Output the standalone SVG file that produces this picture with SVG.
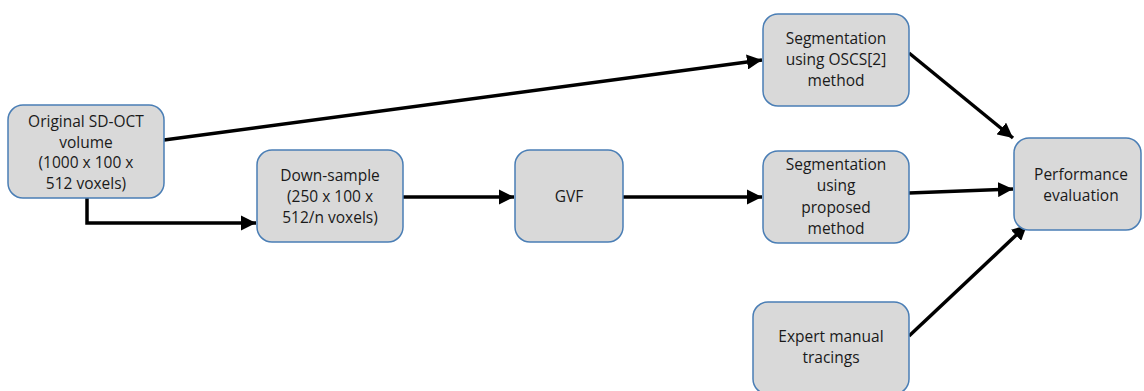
<svg xmlns="http://www.w3.org/2000/svg" width="1144" height="391" viewBox="0 0 1144 391">
<style>
.n{fill:#d9d9d9;stroke:#4a7eb5;stroke-width:1.5}
.t{font-family:"Open Sans","Liberation Sans",sans-serif;font-size:15.5px;fill:#1a1a1a;text-anchor:middle}
.c{fill:none;stroke:#000;stroke-width:3.5}
</style>
<defs>
<marker id="a" viewBox="0 0 10 10" refX="10" refY="5" markerWidth="4.3" markerHeight="4.3" orient="auto" markerUnits="strokeWidth">
<path d="M0,0L10,5L0,10z" fill="#000"/>
</marker>
</defs>
<rect width="1144" height="391" fill="#fff"/>
<g id="connectors">
<path class="c" d="M164,140L762,60" marker-end="url(#a)"/>
<path class="c" d="M87,198V223H256" marker-end="url(#a)"/>
<path class="c" d="M403,197H514" marker-end="url(#a)"/>
<path class="c" d="M623,197H762" marker-end="url(#a)"/>
<path class="c" d="M909,53L1013,138" marker-end="url(#a)"/>
<path class="c" d="M909,193L1013,189" marker-end="url(#a)"/>
<path class="c" d="M909,336L1027,225" marker-end="url(#a)"/>
</g>
<g id="orig">
<rect class="n" x="8" y="105" width="156" height="93" rx="15"/>
<text class="t" x="86" y="127">Original SD-OCT</text>
<text class="t" x="86" y="148">volume</text>
<text class="t" x="86" y="168">(1000 x 100 x</text>
<text class="t" x="86" y="189">512 voxels)</text>
</g>
<g id="down">
<rect class="n" x="257" y="150" width="146" height="92" rx="15"/>
<text class="t" x="330" y="181">Down-sample</text>
<text class="t" x="330" y="202">(250 x 100 x</text>
<text class="t" x="330" y="223">512/n voxels)</text>
</g>
<g id="gvf">
<rect class="n" x="515" y="150" width="108" height="92" rx="15"/>
<text class="t" x="569" y="202">GVF</text>
</g>
<g id="oscs">
<rect class="n" x="763" y="14" width="146" height="92" rx="15"/>
<text class="t" x="836" y="44">Segmentation</text>
<text class="t" x="836" y="65">using OSCS[2]</text>
<text class="t" x="836" y="86">method</text>
</g>
<g id="proposed">
<rect class="n" x="763" y="151" width="146" height="92" rx="15"/>
<text class="t" x="836" y="170">Segmentation</text>
<text class="t" x="836" y="191">using</text>
<text class="t" x="836" y="213">proposed</text>
<text class="t" x="836" y="234">method</text>
</g>
<g id="perf">
<rect class="n" x="1014" y="138" width="127" height="92" rx="15"/>
<text class="t" x="1081" y="180">Performance</text>
<text class="t" x="1081" y="201">evaluation</text>
</g>
<g id="expert">
<rect class="n" x="753" y="302" width="156" height="92" rx="15"/>
<text class="t" x="831" y="342">Expert manual</text>
<text class="t" x="831" y="363">tracings</text>
</g>
</svg>
